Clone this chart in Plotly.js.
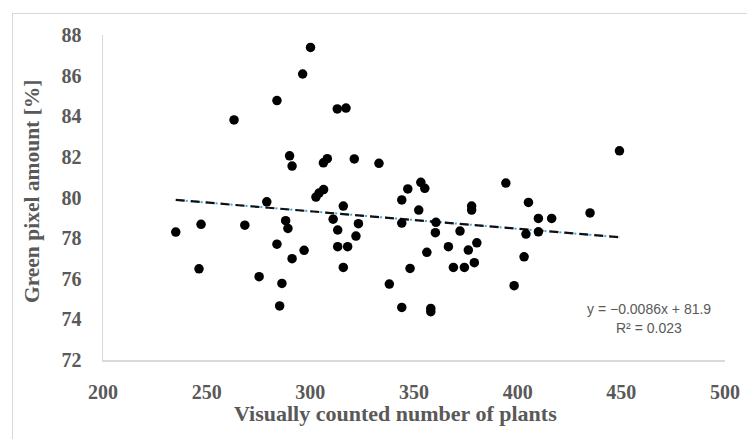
<!DOCTYPE html>
<html>
<head>
<meta charset="utf-8">
<script src="https://cdn.plot.ly/plotly-3.0.1.min.js"></script>
<style>
  html, body { margin: 0; padding: 0; background: #fff; }
  #wrap { position: relative; width: 747px; height: 439px; }
  #chart { width: 747px; height: 439px; }
  #frame { position: absolute; left: 12px; top: 13px; width: 740px; height: 435px;
           border: 1.5px solid #d9d9d9; box-sizing: border-box; pointer-events: none; }
</style>
</head>
<body>
<div id="wrap">
  <div id="chart"></div>
  <div id="frame"></div>
</div>
<script>
// Visually counted number of plants
const plantsCount = [
  235.1, 247.3, 246.3, 263.2, 268.4, 275.3, 279.0, 283.9, 283.9, 285.2,
  286.3, 288.1, 289.2, 290.0, 291.2, 291.2, 296.3, 297.0, 300.1, 302.7,
  304.2, 306.4, 306.3, 308.2, 311.0, 313.0, 313.2, 313.2, 315.9, 315.9,
  317.2, 318.0, 321.2, 322.0, 323.2, 333.1, 338.1, 344.1, 344.1, 344.1,
  347.0, 348.1, 352.3, 353.3, 355.2, 356.2, 358.1, 358.1, 360.6, 360.3,
  366.6, 369.0, 372.2, 374.3, 376.2, 377.8, 377.8, 379.1, 380.3, 394.3,
  398.3, 403.1, 404.0, 405.2, 410.0, 410.0, 416.4, 434.9, 449.1
];
// Green pixel amount [%]
const greenPixel = [
  78.30, 78.68, 76.49, 83.82, 78.64, 76.10, 79.79, 77.70, 84.77, 74.66,
  75.77, 78.86, 78.48, 82.05, 81.55, 76.99, 86.08, 77.40, 87.39, 80.02,
  80.22, 80.39, 81.71, 81.91, 78.93, 84.36, 78.40, 77.58, 79.58, 76.56,
  84.40, 77.58, 81.90, 78.10, 78.71, 81.68, 75.74, 79.88, 78.74, 74.59,
  80.42, 76.51, 79.38, 80.75, 80.45, 77.30, 74.54, 74.38, 78.78, 78.27,
  77.58, 76.56, 78.35, 76.56, 77.41, 79.58, 79.38, 76.79, 77.77, 80.71,
  75.66, 77.08, 78.20, 79.76, 78.97, 78.31, 78.97, 79.24, 82.30
];
// Linear trend line end points
const trendX = [235.1, 449.1];
const trendY = [79.88, 78.04];

const xTicks = [200, 250, 300, 350, 400, 450, 500];
const yTicks = [72, 74, 76, 78, 80, 82, 84, 86, 88];

const equationText = 'y = −0.0086x + 81.9';
const r2Text = 'R² = 0.023';
const xTitle = 'Visually counted number of plants';
const yTitle = 'Green pixel amount [%]';

const serifBold = '"Liberation Serif", "Times New Roman", serif';
const sans = '"Liberation Sans", Arial, sans-serif';
const grey = '#595959';

const traces = [
  {
    x: trendX, y: trendY, mode: 'lines', type: 'scatter', hoverinfo: 'skip',
    line: { color: '#3fa9e8', width: 2, dash: '2px,3px' }, showlegend: false
  },
  {
    x: trendX, y: trendY, mode: 'lines', type: 'scatter', hoverinfo: 'skip',
    line: { color: '#111111', width: 2.2, dash: '9px,6px' }, showlegend: false
  },
  {
    x: plantsCount, y: greenPixel, mode: 'markers', type: 'scatter',
    marker: { color: '#000000', size: 9.5 }, showlegend: false
  }
];

const layout = {
  width: 747, height: 439,
  margin: { l: 103, r: 22, t: 35, b: 79 },
  paper_bgcolor: '#ffffff', plot_bgcolor: '#ffffff',
  showlegend: false,
  xaxis: {
    range: [200, 500], tickvals: xTicks, ticktext: xTicks.map(String),
    showgrid: false, zeroline: false, showline: true, linecolor: '#d9d9d9', linewidth: 1.5,
    ticks: '', ticklabelstandoff: 13,
    tickfont: { family: serifBold, size: 20, color: grey, weight: 'bold' }
  },
  yaxis: {
    range: [72, 88], tickvals: yTicks, ticktext: yTicks.map(String),
    showgrid: false, zeroline: false, showline: true, linecolor: '#d9d9d9', linewidth: 1.5,
    ticks: '', ticklabelstandoff: 16,
    tickfont: { family: serifBold, size: 20, color: grey, weight: 'bold' }
  },
  annotations: [
    { xref: 'paper', yref: 'paper', x: 0.4695, y: -0.166, showarrow: false,
      text: '<b>' + xTitle + '</b>', xanchor: 'center', yanchor: 'middle',
      font: { family: serifBold, size: 22, color: grey } },
    { xref: 'paper', yref: 'paper', x: -0.114, y: 0.52, showarrow: false, textangle: -90,
      text: '<b>' + yTitle + '</b>', xanchor: 'center', yanchor: 'middle',
      font: { family: serifBold, size: 21.5, color: grey } },
    { xref: 'paper', yref: 'paper', x: 0.878, y: 0.157, showarrow: false, borderpad: 0,
      text: equationText, xanchor: 'center', yanchor: 'middle',
      font: { family: sans, size: 14, color: grey } },
    { xref: 'paper', yref: 'paper', x: 0.878, y: 0.0985, showarrow: false, borderpad: 0,
      text: r2Text, xanchor: 'center', yanchor: 'middle',
      font: { family: sans, size: 14, color: grey } }
  ]
};

Plotly.newPlot('chart', traces, layout, { displayModeBar: false, staticPlot: true });
</script>
</body>
</html>
